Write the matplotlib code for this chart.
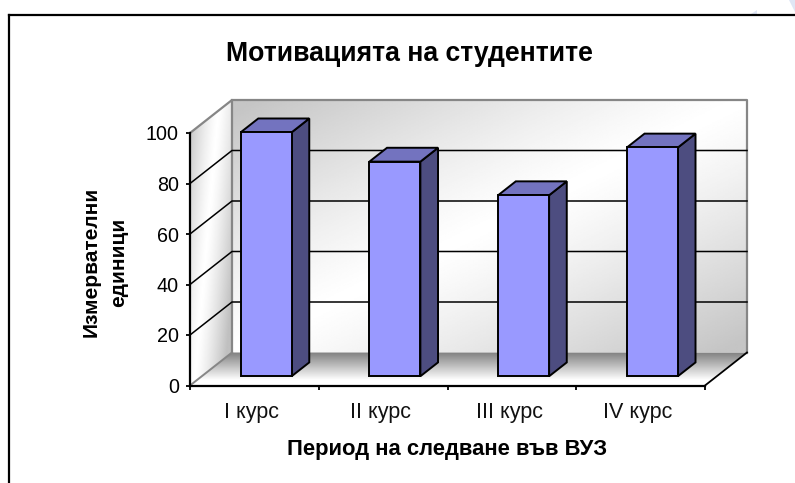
import numpy as np
import matplotlib
matplotlib.use("Agg")
import matplotlib.pyplot as plt
from matplotlib.patches import Polygon, Rectangle
from matplotlib.lines import Line2D

plt.rcParams['font.family'] = ['Liberation Sans', 'DejaVu Sans']

# data
categories = ["I курс", "II курс", "III курс", "IV курс"]
values = [96.6, 85, 71.7, 90.6]
y_ticks = [0, 20, 40, 60, 80, 100]
title = "Мотивацията на студентите"
x_label = "Период на следване във ВУЗ"
y_label = "Измервателни\nединици"

W, H = 795, 483
# front plane of the 3d box in pixels
AX_L, AX_R, AX_T, AX_B = 190, 705, 133, 385.5
DEPTH_PX = (42, 33)

fig = plt.figure(figsize=(W / 100, H / 100), dpi=100)
ax = fig.add_axes([AX_L / W, 1 - AX_B / H, (AX_R - AX_L) / W, (AX_B - AX_T) / H])
ax.patch.set_alpha(0)
ax.set_zorder(2)

x_unit = (AX_R - AX_L) / len(categories)
y_unit = (AX_B - AX_T) / y_ticks[-1]
DX = DEPTH_PX[0] / x_unit
DY = DEPTH_PX[1] / y_unit
n = len(categories)
top = y_ticks[-1]


def oblique(x, y, d):
    # d=0 is the front plane, d=1 the back wall
    return (x + DX * d, y + DY * d)


def gradient(img, verts, extent, z):
    poly = Polygon(verts, closed=True, transform=ax.transData, fc="none", ec="none")
    im = ax.imshow(img, extent=extent, aspect="auto", cmap="gray", vmin=0, vmax=1,
                   origin="upper", zorder=z, interpolation="bilinear")
    im.set_clip_path(poly)
    im.set_clip_box(fig.bbox)


# back wall: grey at two opposite corners, white along the other diagonal
u, v = np.meshgrid(np.linspace(0, 1, 200), np.linspace(0, 1, 200))
back = 0.77 + 0.23 * np.clip(1 - np.abs(u + v - 1) ** 1.2 * 1.05, 0, 1)
back_verts = [oblique(0, 0, 1), oblique(n, 0, 1), oblique(n, top, 1), oblique(0, top, 1)]
gradient(back, back_verts, (DX, n + DX, DY, top + DY), 1)

# left wall, the white band runs down towards the front edge
u, v = np.meshgrid(np.linspace(0, 1, 80), np.linspace(0, 1, 200))
left = 1 - 0.25 * np.clip(np.abs(u - 0.7 + 0.6 * v) * 1.4, 0, 1) ** 1.3
left_verts = [oblique(0, 0, 0), oblique(0, 0, 1), oblique(0, top, 1), oblique(0, top, 0)]
gradient(left, left_verts, (0, DX, 0, top + DY), 1)

# floor, dark at the back edge
v = np.linspace(0, 1, 100)[:, None]
floor = 0.5 + 0.5 * np.clip(v / 0.85, 0, 1) ** 1.0
floor_verts = [oblique(0, 0, 0), oblique(n, 0, 0), oblique(n, 0, 1), oblique(0, 0, 1)]
gradient(floor, floor_verts, (0, n + DX, 0, DY), 1)
ax.add_patch(Polygon([oblique(n - 0.02, 0, 0), oblique(n + 0.02, 0, 0.05), oblique(n, 0, 1)],
                     closed=True, fc="white", ec="none", zorder=1.5, clip_on=False))

# box edges
GREY = "#868686"
ax.plot(*zip(oblique(0, top, 1), oblique(n, top, 1), oblique(n, 0, 1)), color=GREY, lw=1.6, zorder=2, clip_on=False)
ax.plot(*zip(oblique(0, 0, 1), oblique(0, top, 1), oblique(0, top, 0)), color=GREY, lw=1.6, zorder=2, clip_on=False)
ax.plot(*zip(oblique(0, 0, 0), oblique(0, 0, 1)), color=GREY, lw=1.4, zorder=2, clip_on=False)
ax.plot(*zip(oblique(n, 0, 0), oblique(n, 0, 1)), color="black", lw=1.3, zorder=2, clip_on=False)

# grid lines
for t in y_ticks[1:-1]:
    ax.plot(*zip(oblique(0, t, 0), oblique(0, t, 1), oblique(n, t, 1)), color="black", lw=1.1, zorder=2, clip_on=False)

# bars
BAR_W = 0.396
D0, D1 = 0.28, 0.70
for i, val in enumerate(values):
    x0 = i + 0.5 - BAR_W / 2
    x1 = x0 + BAR_W
    fx0, fy0 = oblique(x0, 0, D0)
    fx1, fy1 = oblique(x1, val, D0)
    ax.add_patch(Polygon([(fx1, fy0), oblique(x1, 0, D1), oblique(x1, val, D1), (fx1, fy1)], closed=True,
                         fc="#4d4d80", ec="black", lw=1.4, zorder=3, clip_on=False))
    ax.add_patch(Polygon([(fx0, fy1), (fx1, fy1), oblique(x1, val, D1), oblique(x0, val, D1)], closed=True,
                         fc="#7373bf", ec="black", lw=1.4, zorder=3, clip_on=False))
    ax.add_patch(Rectangle((fx0, fy0), fx1 - fx0, fy1 - fy0,
                           fc="#9999ff", ec="black", lw=1.4, zorder=4, clip_on=False))

ax.set_xlim(0, n)
ax.set_ylim(0, top)
ax.set_yticks(y_ticks)
ax.tick_params(axis="y", labelsize=14.2, length=3, width=1.3, pad=5)
ax.set_xticks(range(n + 1))
ax.set_xticklabels([])
ax.set_xticks([i + 0.5 - 0.02 for i in range(n)], minor=True)
ax.set_xticklabels(categories, minor=True, fontsize=15.5, color="#111111")
ax.tick_params(axis="x", which="major", length=3, width=1.3)
ax.tick_params(axis="x", which="minor", length=0, pad=12)
for s in ["top", "right"]:
    ax.spines[s].set_visible(False)
for s in ["left", "bottom"]:
    ax.spines[s].set_linewidth(1.6)
    ax.spines[s].set_zorder(5)

fig.text(409 / W, 1 - 54 / H, title, ha="center", va="center", fontsize=19.2, fontweight="bold")
fig.text(447 / W, 1 - 449 / H, x_label, ha="center", va="center", fontsize=15.8, fontweight="bold")
fig.text(105 / W, 1 - 262 / H, y_label, ha="center", va="center", rotation=90, fontsize=15,
         fontweight="bold", linespacing=1.55)

# outer frame: only top and left fit in the crop
fig.add_artist(Line2D([9 / W, 9 / W], [0, 1 - 15 / H], color="black", lw=1.6))
fig.add_artist(Line2D([9 / W, 1], [1 - 15 / H, 1 - 15 / H], color="black", lw=1.6))

# faint watermark bits in the corner
fig.add_artist(Polygon([(751 / W, 1 - 14 / H), (757 / W, 1 - 10 / H), (757 / W, 1 - 14 / H)],
                       transform=fig.transFigure, fc="#dfe6f5", ec="none"))
fig.add_artist(Polygon([(789 / W, 1), (795 / W, 1), (795 / W, 1 - 12 / H)],
                       transform=fig.transFigure, fc="#dfe6f5", ec="none"))

fig.savefig("out.png", dpi=100)
